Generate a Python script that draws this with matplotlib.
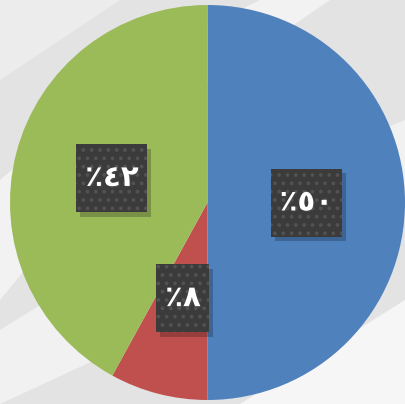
import numpy as np
import matplotlib
matplotlib.use("Agg")
import matplotlib.pyplot as plt
from matplotlib.patches import Rectangle, Polygon
import matplotlib.patheffects as pe

values = [50, 8, 42]
labels = ['٪٥٠', '٪٨', '٪٤٢']
colors = ['#4F81BD', '#C0504D', '#9BBB59']

plt.rcParams['hatch.linewidth'] = 1.5

W, H = 405, 404
fig = plt.figure(figsize=(W / 100, H / 100), dpi=100)
fig.patch.set_facecolor('#e3e3e3')

# background decoration
bg = fig.add_axes([0, 0, 1, 1])
bg.set_xlim(0, W)
bg.set_ylim(H, 0)
bg.axis('off')
bg.add_patch(Polygon([(0, 180), (140, 60), (260, 0), (330, 0), (140, 130), (0, 300)],
                     closed=True, facecolor='white', alpha=0.55, lw=0))
bg.add_patch(Polygon([(0, 330), (210, 200), (405, 120), (405, 220), (160, 330), (0, 404)],
                     closed=True, facecolor='white', alpha=0.5, lw=0))
bg.add_patch(Polygon([(240, 404), (405, 300), (405, 404)],
                     closed=True, facecolor='white', alpha=0.7, lw=0))
bg.add_patch(Polygon([(0, 0), (120, 0), (0, 80)],
                     closed=True, facecolor='white', alpha=0.35, lw=0))

# pie axes
cx, cy, r = 207.5, 202.5, 197.5
ax = fig.add_axes([(cx - r) / W, (H - cy - r) / H, 2 * r / W, 2 * r / H])
ax.patch.set_alpha(0)

wedges, _ = ax.pie(values, colors=colors, startangle=90, counterclock=False,
                   radius=1, wedgeprops=dict(linewidth=0))
ax.set_xlim(-1, 1)
ax.set_ylim(-1, 1)
ax.set_aspect('equal')
ax.axis('off')

total = sum(values)
ang = 90.0
for v, lab in zip(values, labels):
    span = 360.0 * v / total
    mid = np.deg2rad(ang - span / 2)
    ang -= span
    x, y = 0.5 * np.cos(mid), 0.5 * np.sin(mid)
    bw = (53 if len(lab) == 2 else 71) / r
    bh = 68 / r
    # shadow
    ax.add_patch(Rectangle((x - bw / 2 + 0.02, y - bh / 2 - 0.025), bw, bh,
                           facecolor='black', alpha=0.22, lw=0, zorder=3))
    ax.add_patch(Rectangle((x - bw / 2, y - bh / 2), bw, bh,
                           facecolor='#3b3b3b', edgecolor='#525252', hatch='..',
                           lw=0, zorder=4))
    ax.text(x, y, lab, ha='center', va='center', color='white', fontsize=21,
            fontweight='bold', family=['DejaVu Sans'], zorder=5,
            path_effects=[pe.withSimplePatchShadow(offset=(1, -1), alpha=0.5)])

fig.savefig('out.png', dpi=100, facecolor=fig.get_facecolor())
